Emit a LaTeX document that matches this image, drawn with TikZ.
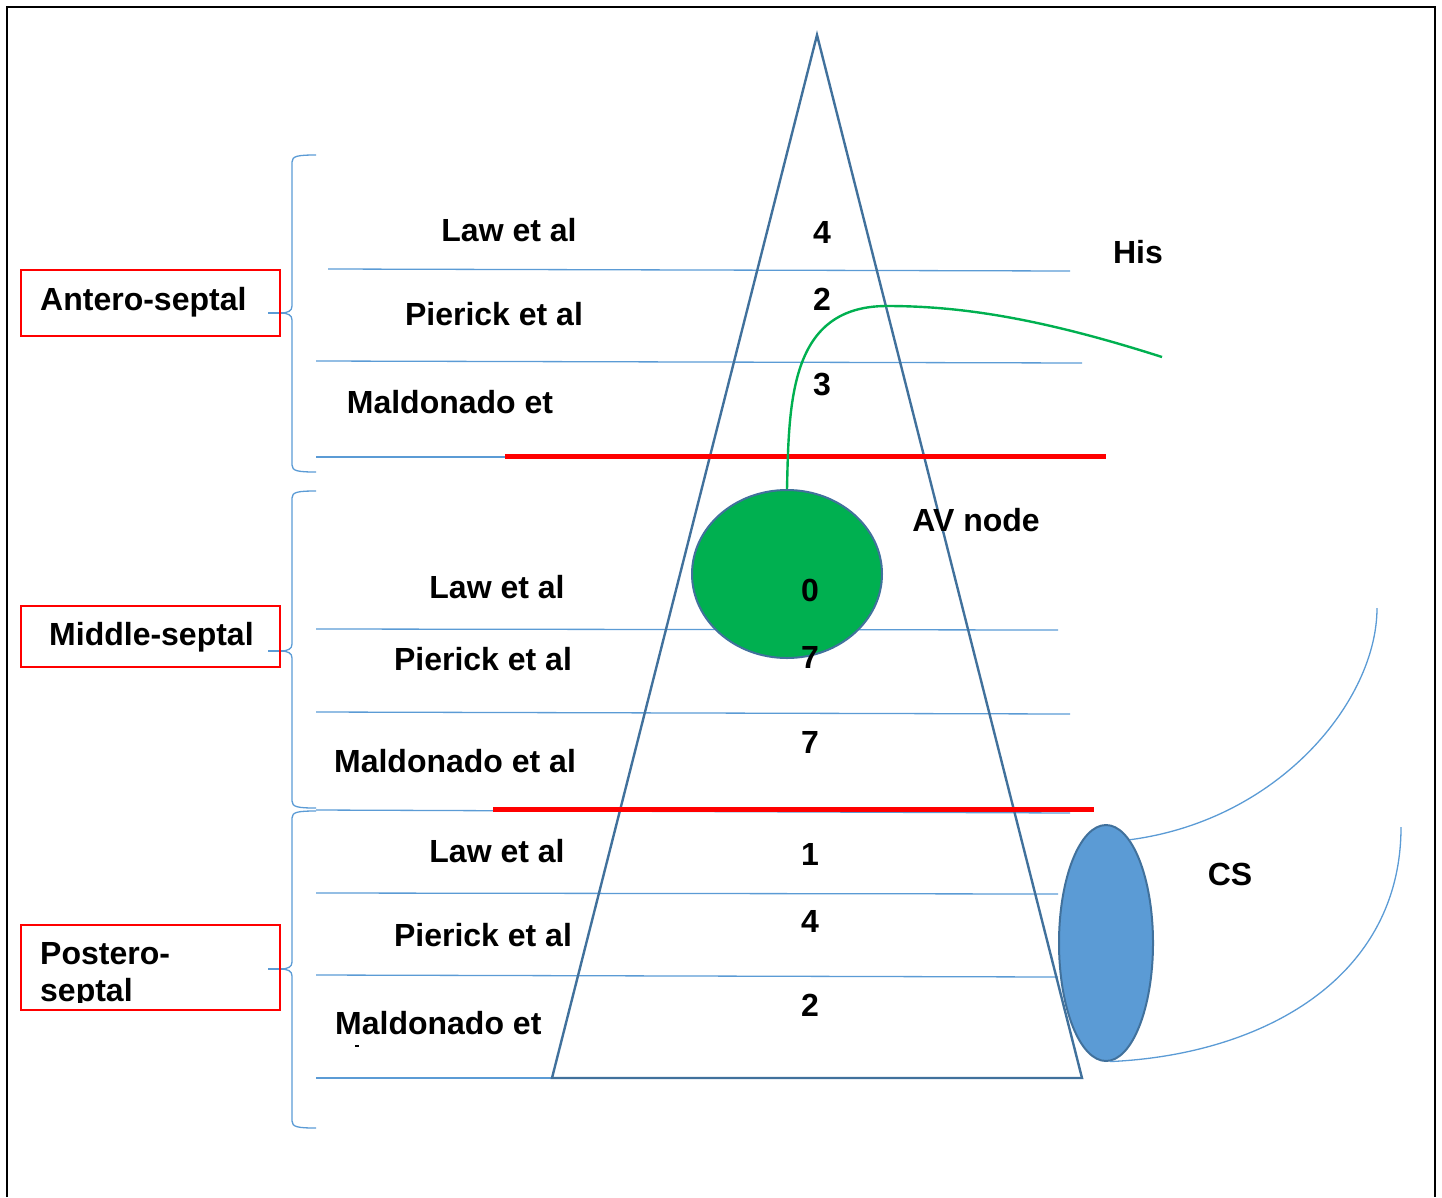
\documentclass[tikz,border=0pt]{standalone}
\usepackage{fontspec}
\setmainfont{Liberation Sans}
\usetikzlibrary{shapes.geometric}
\definecolor{lineblue}{RGB}{91,155,213}
\definecolor{darkblue}{RGB}{65,113,156}
\definecolor{avgreen}{RGB}{0,176,80}
\definecolor{csblue}{RGB}{91,155,213}
\newcommand{\sepbrace}[3]{%
  \draw[thinblue] (316,#1) .. controls (298,#1) and (292,{#1+1}) .. (292,{#1+7}) -- (292,{#2-7})
     .. controls (292,{#2-2}) and (288,#2) .. (280,#2)
     .. controls (288,#2) and (292,{#2+2}) .. (292,{#2+7}) -- (292,{#3-7})
     .. controls (292,{#3-1}) and (298,#3) .. (316,#3);
  \draw[thinblue, line width=1.8] (268,#2) -- (283,#2);}
\tikzset{
  thinblue/.style={draw=lineblue, line width=1.3},
  tri/.style={draw=darkblue, line width=2.4, line join=miter},
  redline/.style={draw=red, line width=4.5},
  redbox/.style={draw=red, line width=2},
  lbl/.style={font=\bfseries\fontsize{32}{37}\selectfont, inner sep=0pt, anchor=base},
  lblw/.style={lbl, anchor=base west},
}
\begin{document}
\begin{tikzpicture}[x=1pt,y=-1pt]
\useasboundingbox (0,0) rectangle (1442,1197);
% outer frame
\draw[line width=2.5] (7,1197) -- (7,7) -- (1435,7) -- (1435,1197);
% horizontal rows
\draw[thinblue] (328,269) -- (1070,271);
\draw[thinblue] (316,361) -- (1082,363);
\draw[thinblue] (316,457) -- (1082,457);
\draw[thinblue] (316,629) -- (1058,630);
\draw[thinblue] (316,712) -- (1070,714);
\draw[thinblue] (316,810) -- (1070,813);
\draw[thinblue] (316,893) -- (1058,894);
\draw[thinblue] (316,975) -- (1058,977);
\draw[thinblue] (316,1078) -- (552,1078);
% braces
\sepbrace{155}{313}{472}
\sepbrace{491}{651}{808}
\sepbrace{811}{969}{1128}
% red boxes
\draw[redbox] (21,270) rectangle (280,336);
\draw[redbox] (21,606) rectangle (280,667);
\draw[redbox] (21,925) rectangle (280,1010);
\node[lblw] (ant) at (40,310) {Antero-septal};
\node[lblw] (mid) at (49,645) {Middle-septal};
\begin{scope}
  \clip (21,925) rectangle (280,1002);
  \node[lblw] (post1) at (40,964) {Postero-};
  \node[lblw] (post2) at (40,1001) {septal};
\end{scope}
% CS
\node[ellipse, draw=darkblue, line width=2, fill=csblue, minimum width=94pt, minimum height=236pt, inner sep=0pt] (cs) at (1106,943) {};
\coordinate (cs1) at (1377,608);
\coordinate (cs2) at (1401,827);
\draw[thinblue] (cs.77) .. controls (1280,820) and (1377,700) .. (cs1);
\draw[thinblue] (cs.-88) .. controls (1260,1055) and (1401,980) .. (cs2);
% triangle
\draw[tri] (817,35) -- (1082,1078) -- (552,1078) -- cycle;
% red lines
\draw[redline] (505,456.5) -- (1106,456.5);
\draw[redline] (493,809.5) -- (1094,809.5);
% AV node
\node[ellipse, draw=darkblue, line width=2, fill=avgreen, minimum width=190pt, minimum height=168pt, inner sep=0pt] (av) at (787,574) {};
\coordinate (hisend) at (1162,357);
\draw[draw=avgreen, line width=2.4] (av.north) .. controls (789,400) and (790,306) .. (887,306)
   .. controls (960,306) and (1040,318) .. (hisend);
% labels
\node[lbl] (law1) at (509,241) {Law et al};
\node[lbl] (pie1) at (494,325) {Pierick et al};
\node[lbl] (mal1) at (450,413) {Maldonado et};
\node[lbl] (n4a) at (822,243) {4};
\node[lbl] (n2a) at (822,310) {2};
\node[lbl] (n3a) at (822,395) {3};
\node[lbl] (his) at (1138,263) {His};
\node[lbl] (avl) at (976,531) {AV node};
\node[lbl] (law2) at (497,598) {Law et al};
\node[lbl] (pie2) at (483,670) {Pierick et al};
\node[lbl] (mal2) at (455,772) {Maldonado et al};
\node[lbl] (n0) at (810,601) {0};
\node[lbl] (n7a) at (810,668) {7};
\node[lbl] (n7b) at (810,753) {7};
\node[lbl] (law3) at (497,862) {Law et al};
\node[lbl] (pie3) at (483,946) {Pierick et al};
\node[lblw] (mal3) at (335,1034) {Maldonado et};
\fill (355,1045) rectangle (359,1047);
\node[lbl] (n1) at (810,865) {1};
\node[lbl] (n4b) at (810,932) {4};
\node[lbl] (n2b) at (810,1016) {2};
\node[lbl] (csl) at (1230,885) {CS};
\end{tikzpicture}
\end{document}
